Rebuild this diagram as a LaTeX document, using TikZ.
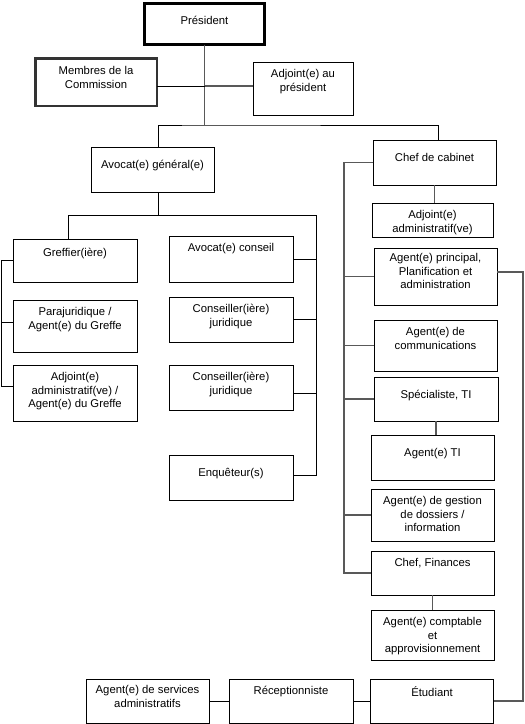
\documentclass[tikz,border=0pt]{standalone}
\usepackage{fontspec}
\setmainfont{Liberation Sans}
\usetikzlibrary{calc, positioning}

\begin{document}
\begin{tikzpicture}[x=1pt, y=-1pt, line width=1pt, font=\fontsize{11.3}{13.5}\selectfont]
    \tikzstyle{box}=[draw=black, rectangle, fill=white, minimum width=123pt, minimum height=45pt, inner sep=0pt, outer sep=0pt]
    \tikzstyle{txt}=[anchor=north, align=center, inner sep=0pt, yshift=-7pt]
    \tikzstyle{txtmid}=[anchor=north, align=center, inner sep=0pt, yshift=-13pt]
    \tikzstyle{link}=[draw=black, line width=1pt]
    \tikzstyle{glink}=[draw=black!65, line width=1.3pt]

    \useasboundingbox (0,0) rectangle (525,724);

    % top
    \node[box, line width=3.2pt, minimum width=120pt, minimum height=41pt, label={[txtmid, yshift=1pt]north:Président}] (pres) at (204.5,24) {};
    \node[box, draw=black!80, line width=2.5pt, minimum width=121.5pt, minimum height=47.5pt, label={[txt, yshift=-1pt]north:{Membres de la\\Commission}}] (membres) at (96,82) {};
    \node[box, minimum width=100pt, minimum height=53pt, label={[txt]north:{Adjoint(e) au\\président}}] (adj) at (303,88.5) {};
    \node[box, label={[txtmid]north:{Avocat(e) général(e)}}] (agen) at (152.5,169.5) {};
    \node[box, label={[txtmid]north:{Chef de cabinet}}] (chef) at (434.5,162.5) {};

    % avocat general
    \node[box, minimum width=124pt, minimum height=43pt, label={[txt, yshift=-2pt]north:{Greffier(ière)}}] (greffier) at (75,260.5) {};
    \node[box, minimum width=124pt, minimum height=52pt, label={[txt]north:{Parajuridique /\\Agent(e) du Greffe}}] (para) at (75,326) {};
    \node[box, minimum width=124pt, minimum height=56pt, label={[txt]north:{Adjoint(e)\\administratif(ve) /\\Agent(e) du Greffe}}] (adjadm) at (75,393) {};
    \node[box, minimum width=124pt, minimum height=46pt, label={[txt]north:{Avocat(e) conseil}}] (aconseil) at (231,259) {};
    \node[box, minimum width=124pt, label={[txt]north:{Conseiller(ière)\\juridique}}] (cons1) at (231,319.5) {};
    \node[box, minimum width=124pt, label={[txt]north:{Conseiller(ière)\\juridique}}] (cons2) at (231,387.5) {};
    \node[box, minimum width=124pt, label={[txtmid]north:{Enquêteur(s)}}] (enq) at (231,477.5) {};

    % chef de cabinet
    \node[box, minimum width=121pt, minimum height=34pt, label={[txt]north:{Adjoint(e)\\administratif(ve)}}] (adjcab) at (432.5,220) {};
    \node[box, minimum height=57pt, label={[txt, yshift=2pt]north:{Agent(e) principal,\\Planification et\\administration}}] (principal) at (435.5,276.5) {};
    \node[box, minimum height=51pt, label={[txt]north:{Agent(e) de\\communications}}] (comm) at (435.5,345.5) {};
    \node[box, minimum width=124pt, minimum height=44pt, label={[txtmid]north:{Spécialiste, TI}}] (spec) at (436,399) {};
    \node[box, label={[txtmid]north:{Agent(e) TI}}] (agentti) at (432.5,457.5) {};
    \node[box, minimum height=52pt, label={[txt]north:{Agent(e) de gestion\\de dossiers /\\information}}] (gestion) at (432.5,515) {};
    \node[box, minimum height=44pt, label={[txt]north:{Chef, Finances}}] (finances) at (432.5,573) {};
    \node[box, minimum height=50pt, label={[txt]north:{Agent(e) comptable\\et\\approvisionnement}}] (comptable) at (432.5,635) {};

    % bottom row
    \node[box, minimum height=44pt, label={[txt]north:{Étudiant}}] (etudiant) at (432,701) {};
    \node[box, minimum width=124pt, minimum height=44pt, label={[txt]north:{Réceptionniste}}] (recep) at (291,701) {};
    \node[box, minimum height=44pt, label={[txt, yshift=1pt]north:{Agent(e) de services\\administratifs}}] (services) at (147.5,701) {};

    \coordinate (bus) at (205,125);
    \coordinate (mem) at (205,86);
    \coordinate (rspine) at (316,215);
    \coordinate (lspine) at (344,160);

    \draw[glink] (pres.south) -- (pres.south |- bus);
    \draw[link] (membres.east |- mem) -- (mem);
    \draw[glink] (mem) -- (adj.west |- mem);
    \draw[link] ($(agen.north)+(5.5,0)$) |- (bus) -| ($(chef.north)+(3.5,0)$);

    \draw[link] ($(agen.south)+(5.5,0)$) |- (rspine);
    \draw[link] ($(greffier.north)+(-7,0)$) |- (rspine);
    \draw[link] (rspine) |- ($(enq.east)+(0,-2.5)$);
    \draw[link] (aconseil.east) -- (aconseil.east -| rspine);
    \draw[link] (cons1.east) -- (cons1.east -| rspine);
    \draw[link] ($(cons2.east)+(0,5.5)$) -- +(23,0);
    \draw[link] (greffier.west) -- ++(-12,0) |- ($(adjadm.west)+(0,-7)$);
    \draw[link] ($(para.west)+(0,-4)$) -- ++(-12,0);

    \draw[glink] (chef.west) -- (chef.west -| lspine) |- (finances.west);
    \foreach \n in {principal, comm, spec, gestion}
        \draw[glink] (\n.west) -- (\n.west -| lspine);
    \draw[glink] (chef.south) -- (chef.south |- adjcab.north);
    \draw[glink] (spec.south) -- (spec.south |- agentti.north);
    \draw[glink] (finances.south) -- (finances.south |- comptable.north);
    \draw[glink] ($(principal.east)+(0,-4.5)$) -- ++(26,0) |- (etudiant.east);
    \draw[link] (etudiant.west) -- (recep.east);
    \draw[link] (recep.west) -- (services.east);
\end{tikzpicture}
\end{document}
